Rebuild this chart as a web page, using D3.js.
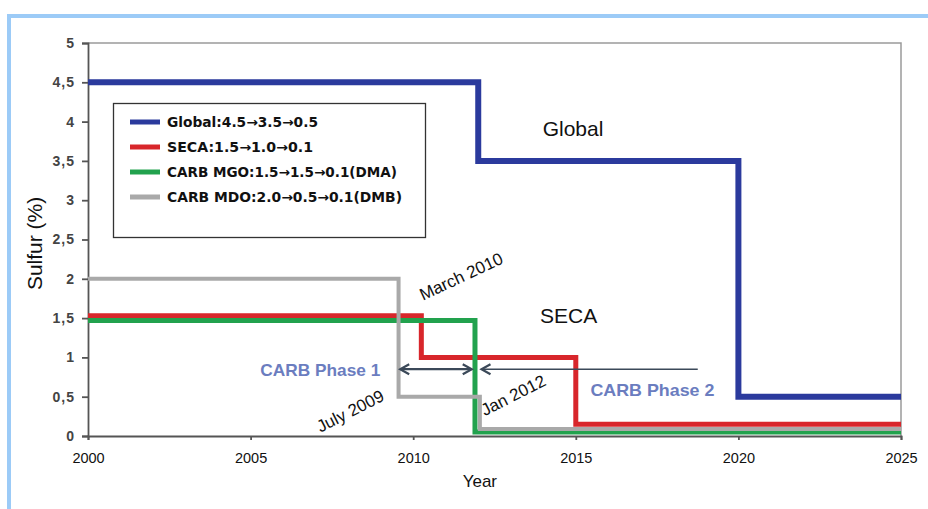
<!DOCTYPE html>
<html>
<head>
<meta charset="utf-8">
<script src="https://cdn.jsdelivr.net/npm/d3@7"></script>
<style>
  body { margin: 0; background: #fff; }
  svg { display: block; font-family: Arial, "Liberation Sans", sans-serif; }
</style>
</head>
<body>
<svg id="chart" width="928" height="509"></svg>
<script>
// step series: [year, sulfur %] (held until next year)
var globalSteps = [[2000, 4.5], [2012, 3.5], [2020, 0.5], [2025, 0.5]];
var secaSteps = [[2000, 1.53], [2010.25, 1.0], [2015, 0.15], [2025, 0.15]];
var mgoSteps = [[2000, 1.47], [2011.9, 0.05], [2025, 0.05]];
var mdoSteps = [[2000, 2.0], [2009.55, 0.5], [2012.05, 0.09], [2025, 0.09]];

var legendLabels = [
  "Global:4.5\u21923.5\u21920.5",
  "SECA:1.5\u21921.0\u21920.1",
  "CARB MGO:1.5\u21921.5\u21920.1(DMA)",
  "CARB MDO:2.0\u21920.5\u21920.1(DMB)"
];
var legendWidths = [151, 146, 230, 235];
var seriesColors = ["#2b3a9d", "#d8262b", "#22a24e", "#a9a9a9"];
var seriesWidths = [6, 5, 5, 4];

var xTicks = [2000, 2005, 2010, 2015, 2020, 2025];
var yTicks = [0, 0.5, 1, 1.5, 2, 2.5, 3, 3.5, 4, 4.5, 5];

var svg = d3.select('#chart');

var x = d3.scaleLinear().domain([2000, 2025]).range([88, 901]);
var y = d3.scaleLinear().domain([0, 5]).range([436, 43]);

// light blue frame
svg.append('path')
	.attr('d', 'M 9 509 L 9 16 L 928 16')
	.style('fill', 'none')
	.style('stroke', '#9ccbf7')
	.style('stroke-width', 4);

// plot box (top + right)
svg.append('path')
	.attr('d', `M ${x(2000)} ${y(5)} L ${x(2025)} ${y(5)} L ${x(2025)} ${y(0)}`)
	.style('fill', 'none')
	.style('stroke', '#9a9a9a')
	.style('stroke-width', 1.5);

var fmt = d => String(d).replace('.', ',');

var yAxis = svg.append('g')
	.attr('transform', `translate(${x(2000)},0)`)
	.call(d3.axisLeft(y).tickValues(yTicks).tickFormat(fmt).tickSizeOuter(0).tickSize(6).tickPadding(7));

var xAxis = svg.append('g')
	.attr('transform', `translate(0,${y(0)})`)
	.call(d3.axisBottom(x).tickValues(xTicks).tickFormat(d3.format('d')).tickSizeOuter(0).tickSize(4).tickPadding(13));

yAxis.selectAll('path, line').style('stroke', '#555').style('stroke-width', 1.8);
xAxis.selectAll('path, line').style('stroke', '#555').style('stroke-width', 1.8);
yAxis.selectAll('text')
	.style('font-size', '14px').style('font-weight', 'bold').style('letter-spacing', '1px')
	.style('fill', '#444').style('font-family', 'Arial, "Liberation Sans", sans-serif');
xAxis.selectAll('text').style('font-size', '14.5px').style('fill', '#111').style('font-family', 'Arial, "Liberation Sans", sans-serif');

// axis titles
svg.append('text')
	.attr('transform', `translate(42,${y(2.45)}) rotate(-90)`)
	.attr('text-anchor', 'middle')
	.style('font-size', '21px')
	.style('fill', '#111')
	.text('Sulfur (%)');

svg.append('text')
	.attr('x', x(2012.05))
	.attr('y', 487)
	.attr('text-anchor', 'middle')
	.style('font-size', '17px')
	.style('fill', '#111')
	.text('Year');

// series
var line = d3.line()
	.x(d => x(d[0]))
	.y(d => y(d[1]))
	.curve(d3.curveStepAfter);

var allSteps = [globalSteps, secaSteps, mgoSteps, mdoSteps];

allSteps.forEach((steps, i) => {
	svg.append('path')
		.datum(steps)
		.attr('d', line)
		.style('fill', 'none')
		.style('stroke', seriesColors[i])
		.style('stroke-width', seriesWidths[i])
		.style('stroke-linejoin', 'miter');
});

// legend
var legend = svg.append('g');
legend.append('rect')
	.attr('x', 113.5).attr('y', 103.5)
	.attr('width', 312).attr('height', 134)
	.style('fill', '#fff')
	.style('stroke', '#333')
	.style('stroke-width', 1.3);

legendLabels.forEach((label, i) => {
	var ly = 122 + i * 25;
	legend.append('line')
		.attr('x1', 130).attr('x2', 160)
		.attr('y1', ly).attr('y2', ly)
		.style('stroke', seriesColors[i])
		.style('stroke-width', 5);
	legend.append('text')
		.attr('x', 167)
		.attr('y', ly + 5)
		.attr('textLength', legendWidths[i])
		.attr('lengthAdjust', 'spacingAndGlyphs')
		.style('font-family', '"DejaVu Sans Condensed", "DejaVu Sans", sans-serif')
		.style('font-size', '13.5px')
		.style('font-weight', 'bold')
		.style('fill', '#111')
		.text(label);
});

// plain labels
svg.append('text')
	.attr('x', x(2013.98)).attr('y', 136)
	.style('font-size', '21px').style('fill', '#111')
	.text('Global');

svg.append('text')
	.attr('x', x(2013.9)).attr('y', 323)
	.style('font-size', '21px').style('fill', '#111')
	.text('SECA');

// rotated date labels
var dateLabels = [
	{ text: 'March 2010', yr: 2010.3, v: 1.72, angle: -25 },
	{ text: 'July 2009', yr: 2007.15, v: 0.04, angle: -27 },
	{ text: 'Jan 2012', yr: 2012.2, v: 0.25, angle: -27 }
];
dateLabels.forEach(d => {
	svg.append('text')
		.attr('transform', `translate(${x(d.yr)},${y(d.v)}) rotate(${d.angle})`)
		.style('font-size', '17px')
		.style('fill', '#111')
		.text(d.text);
});

// CARB phase labels
var phaseColor = '#6b7dbf';
svg.append('text')
	.attr('x', x(2005.3)).attr('y', 376)
	.attr('textLength', 120).attr('lengthAdjust', 'spacingAndGlyphs')
	.style('font-size', '17px').style('font-weight', 'bold').style('fill', phaseColor)
	.text('CARB Phase 1');

svg.append('text')
	.attr('x', x(2015.45)).attr('y', 396)
	.attr('textLength', 124).attr('lengthAdjust', 'spacingAndGlyphs')
	.style('font-size', '17px').style('font-weight', 'bold').style('fill', phaseColor)
	.text('CARB Phase 2');

// arrows
var arrowColor = '#3b4959';
var arrowY = y(0.85);
function chevron(px, dir) {
	svg.append('path')
		.attr('d', `M ${px + dir * 9} ${arrowY - 5} L ${px} ${arrowY} L ${px + dir * 9} ${arrowY + 5}`)
		.style('fill', 'none')
		.style('stroke', arrowColor)
		.style('stroke-width', 2.2);
}
svg.append('line')
	.attr('x1', x(2009.6)).attr('x2', x(2011.8))
	.attr('y1', arrowY).attr('y2', arrowY)
	.style('stroke', arrowColor).style('stroke-width', 2.2);
chevron(x(2009.6), 1);
chevron(x(2011.8), -1);

svg.append('line')
	.attr('x1', x(2012.1)).attr('x2', x(2018.75))
	.attr('y1', arrowY).attr('y2', arrowY)
	.style('stroke', arrowColor).style('stroke-width', 1.5);
chevron(x(2012.1), 1);
</script>
</body>
</html>
